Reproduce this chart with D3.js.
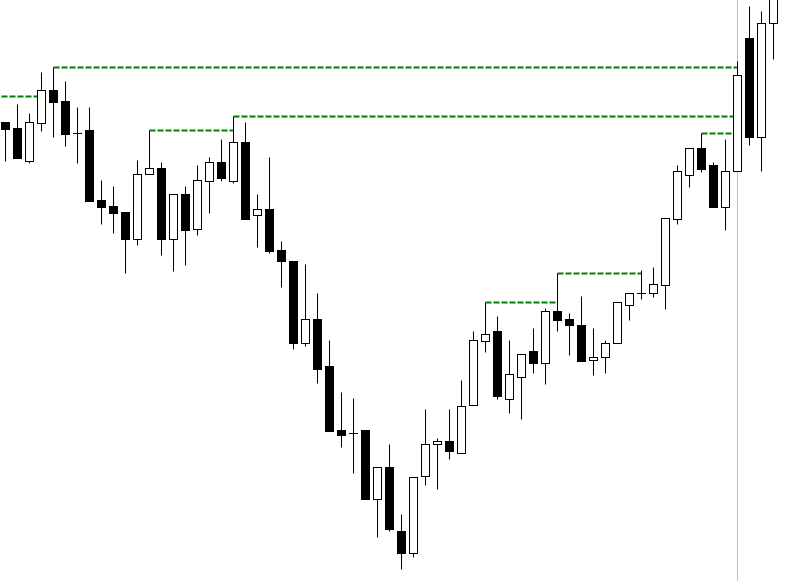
<!DOCTYPE html>
<html>
<head>
<meta charset="utf-8">
<script src="https://cdn.jsdelivr.net/npm/d3@7"></script>
<style>
  html, body { margin: 0; padding: 0; background: #fff; }
  svg { display: block; }
</style>
</head>
<body>
<svg width="811" height="581"></svg>
<script>
// OHLC prices, one per bar, oldest first
const open = [1.1459,1.1453,1.1420,1.1458,1.1491,1.1480,1.1448,1.1451,1.1381,1.1375,
  1.1369,1.1342,1.1407,1.1413,1.1342,1.1387,1.1352,1.1400,1.1419,1.1400,
  1.1439,1.1366,1.1372,1.1331,1.1320,1.1238,1.1262,1.1215,1.1151,1.1148,
  1.1151,1.1082,1.1114,1.1050,1.1028,1.1105,1.1137,1.1140,1.1128,1.1176,
  1.1240,1.1250,1.1182,1.1204,1.1230,1.1218,1.1270,1.1262,1.1256,1.1221,
  1.1224,1.1238,1.1276,1.1288,1.1288,1.1296,1.1362,1.1406,1.1433,1.1416,
  1.1374,1.1410,1.1543,1.1444,1.1558];
const high = [1.1459,1.1477,1.1468,1.1509,1.1514,1.1500,1.1474,1.1474,1.1401,1.1395,
  1.1369,1.1421,1.1451,1.1419,1.1387,1.1395,1.1416,1.1424,1.1442,1.1465,
  1.1459,1.1387,1.1424,1.1340,1.1320,1.1317,1.1288,1.1241,1.1189,1.1183,
  1.1151,1.1114,1.1137,1.1067,1.1104,1.1172,1.1143,1.1172,1.1201,1.1250,
  1.1279,1.1265,1.1241,1.1227,1.1253,1.1273,1.1308,1.1268,1.1285,1.1253,
  1.1241,1.1279,1.1288,1.1311,1.1314,1.1363,1.1416,1.1433,1.1448,1.1419,
  1.1442,1.1520,1.1575,1.1570,1.1601];
const low = [1.1420,1.1423,1.1418,1.1450,1.1444,1.1435,1.1418,1.1380,1.1357,1.1348,
  1.1308,1.1336,1.1407,1.1326,1.1310,1.1316,1.1346,1.1368,1.1400,1.1398,
  1.1362,1.1334,1.1328,1.1294,1.1232,1.1235,1.1198,1.1150,1.1134,1.1108,
  1.1082,1.1044,1.1050,1.1012,1.1024,1.1096,1.1092,1.1122,1.1128,1.1176,
  1.1229,1.1182,1.1168,1.1162,1.1208,1.1197,1.1250,1.1226,1.1220,1.1206,
  1.1208,1.1238,1.1261,1.1282,1.1284,1.1272,1.1357,1.1394,1.1409,1.1374,
  1.1351,1.1410,1.1436,1.1410,1.1522];
const close = [1.1452,1.1423,1.1459,1.1491,1.1479,1.1447,1.1448,1.1380,1.1374,1.1368,
  1.1342,1.1407,1.1413,1.1342,1.1387,1.1351,1.1401,1.1419,1.1403,1.1439,
  1.1362,1.1372,1.1330,1.1320,1.1238,1.1262,1.1212,1.1150,1.1146,1.1148,
  1.1082,1.1114,1.1052,1.1028,1.1104,1.1137,1.1140,1.1130,1.1175,1.1241,
  1.1247,1.1185,1.1207,1.1227,1.1218,1.1270,1.1261,1.1256,1.1220,1.1224,
  1.1238,1.1279,1.1288,1.1288,1.1297,1.1363,1.1410,1.1433,1.1412,1.1374,
  1.1410,1.1506,1.1444,1.1558,1.1596];

// broken resistance levels: start bar, breaking bar, price
const levelFrom = [-3, 4, 12, 19, 40, 46, 58];
const levelTo = [3, 61, 19, 61, 46, 53, 61];
const levelPrice = [1.1485, 1.1514, 1.1451, 1.1465, 1.1279, 1.1308, 1.1448];

// bar where the vertical separator sits
const markerBar = 61;

const width = 811, height = 581;
const svg = d3.select("svg");

const bars = open.map((o, i) => ({ i, o, h: high[i], l: low[i], c: close[i] }));
const levels = levelFrom.map((f, k) => ({ f, t: levelTo[k], p: levelPrice[k] }));

const x = d3.scaleLinear().domain([0, 64]).range([5.5, 773.5]);
const y = d3.scaleLinear().domain([1.1000, 1.1581]).range([height, 0]);
const py = v => Math.round(y(v)) + 0.5;

svg.append("line")
  .attr("x1", x(markerBar)).attr("x2", x(markerBar))
  .attr("y1", 0).attr("y2", height)
  .attr("stroke", "#c0c0c0")
  .attr("stroke-width", 1);

svg.append("g")
  .selectAll("line")
  .data(levels)
  .join("line")
  .attr("x1", d => x(d.f))
  .attr("x2", d => x(d.t))
  .attr("y1", d => py(d.p))
  .attr("y2", d => py(d.p))
  .attr("stroke", "#008000")
  .attr("stroke-width", 2)
  .attr("stroke-dasharray", "6,2");

const candle = svg.append("g")
  .selectAll("g")
  .data(bars)
  .join("g");

candle.append("line")
  .attr("x1", d => x(d.i)).attr("x2", d => x(d.i))
  .attr("y1", d => py(d.h)).attr("y2", d => py(d.l))
  .attr("stroke", "#000")
  .attr("stroke-width", 1);

candle.filter(d => d.o !== d.c).append("rect")
  .attr("x", d => x(d.i) - 4)
  .attr("width", 8)
  .attr("y", d => py(Math.max(d.o, d.c)))
  .attr("height", d => py(Math.min(d.o, d.c)) - py(Math.max(d.o, d.c)))
  .attr("fill", d => d.c > d.o ? "#fff" : "#000")
  .attr("stroke", "#000")
  .attr("stroke-width", 1);

candle.filter(d => d.o === d.c).append("line")
  .attr("x1", d => x(d.i) - 4.5).attr("x2", d => x(d.i) + 4.5)
  .attr("y1", d => py(d.o)).attr("y2", d => py(d.o))
  .attr("stroke", "#000")
  .attr("stroke-width", 1);
</script>
</body>
</html>
